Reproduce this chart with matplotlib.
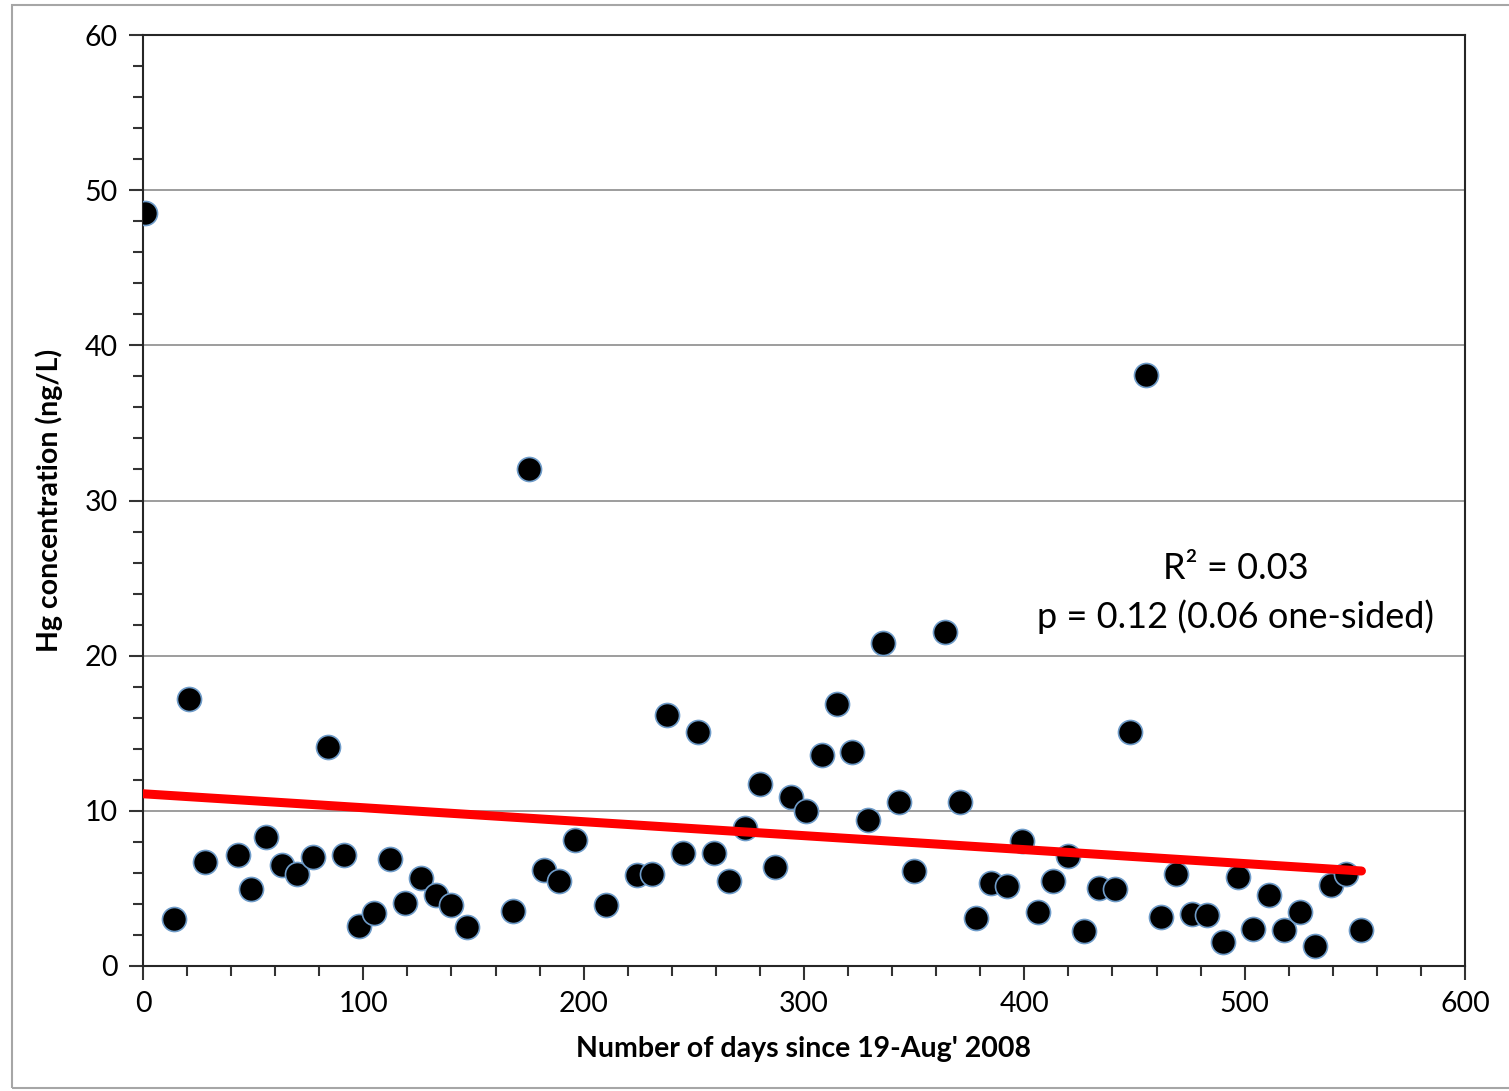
import matplotlib.pyplot as plt
from matplotlib.ticker import MultipleLocator
from matplotlib.patches import Rectangle
import numpy as np

plt.rcParams['font.family'] = ['Lato', 'DejaVu Sans']

# jours depuis le 19 août 2008 et concentration de Hg (ng/L)
days = [1, 14, 21, 28, 43, 49, 56, 63, 70, 77, 84, 91, 98, 105, 112, 119,
        126, 133, 140, 147, 168, 175, 182, 189, 196, 210, 224, 231, 238,
        245, 252, 259, 266, 273, 280, 287, 294, 301, 308, 315, 322, 329,
        336, 343, 350, 364, 371, 378, 385, 392, 399, 406, 413, 420, 427,
        434, 441, 448, 455, 462, 469, 476, 483, 490, 497, 504, 511, 518,
        525, 532, 539, 546, 553]
hg = [48.5, 3.0, 17.2, 6.7, 7.15, 4.95, 8.3, 6.5, 5.9, 7.0, 14.1, 7.15,
      2.6, 3.4, 6.9, 4.05, 5.65, 4.6, 3.9, 2.5, 3.55, 32.0, 6.2, 5.5, 8.1,
      3.9, 5.85, 5.95, 16.2, 7.3, 15.1, 7.3, 5.5, 8.9, 11.7, 6.4, 10.9,
      10.0, 13.6, 16.9, 13.8, 9.4, 20.8, 10.6, 6.1, 21.5, 10.6, 3.1, 5.35,
      5.15, 8.05, 3.5, 5.5, 7.1, 2.25, 5.0, 4.95, 15.1, 38.1, 3.15, 5.9,
      3.35, 3.3, 1.55, 5.75, 2.4, 4.55, 2.3, 3.5, 1.3, 5.2, 5.9, 2.3]

# droite de tendance
fit_intercept = 11.1
fit_slope = -0.0090

fig = plt.figure(figsize=(15.09, 10.91), dpi=100)
fig.patches.append(Rectangle((12 / 1509, 3 / 1091), 1.0, 1083 / 1091,
                             transform=fig.transFigure, fill=False,
                             edgecolor='#a6a6a6', linewidth=1.5))
ax = fig.add_axes([143 / 1509, 125 / 1091, 1322 / 1509, 931 / 1091])

ax.scatter(days, hg, s=300, color='black', edgecolors='#6f9cc9',
           linewidths=1.2, zorder=3)

xs = np.array([days[0] - 1, days[-1]])
ax.plot(xs, fit_intercept + fit_slope * xs, color='#ff0000', linewidth=6.5,
        solid_capstyle='round', zorder=4)

ax.set_xlim(0, 600)
ax.set_ylim(0, 60)
ax.xaxis.set_major_locator(MultipleLocator(100))
ax.xaxis.set_minor_locator(MultipleLocator(20))
ax.yaxis.set_major_locator(MultipleLocator(10))
ax.yaxis.set_minor_locator(MultipleLocator(2))
ax.tick_params(which='major', direction='out', length=10, width=1.5,
               labelsize=20.5, pad=8, color='#333333')
ax.tick_params(which='minor', direction='out', length=7, width=1.5,
               color='#333333')
ax.grid(axis='y', which='major', color='#8c8c8c', linewidth=1.2)
ax.set_axisbelow(True)
for sp in ax.spines.values():
    sp.set_color('#262626')
    sp.set_linewidth(1.5)

ax.set_xlabel("Number of days since 19-Aug' 2008", fontsize=20.5,
              fontweight='bold', labelpad=14)
ax.set_ylabel('Hg concentration (ng/L)', fontsize=20.5, fontweight='bold',
              labelpad=16)

ax.text(496, 25.6, 'R² = 0.03', fontsize=26, ha='center', va='center')
ax.text(496, 22.5, 'p = 0.12 (0.06 one-sided)', fontsize=26, ha='center',
        va='center')

fig.savefig('out.png', dpi=100)
